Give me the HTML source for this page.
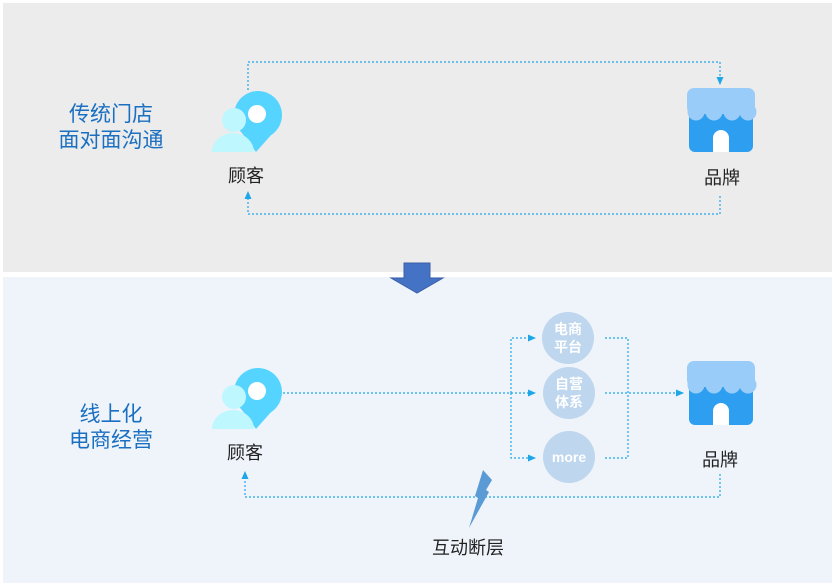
<!DOCTYPE html>
<html><head><meta charset="utf-8"><style>
body{margin:0;background:#fff;}
svg{display:block;font-family:"Liberation Sans","Noto Sans CJK SC",sans-serif;}
</style></head><body>
<svg width="835" height="587" viewBox="0 0 835 587">
<defs>
<marker id="a" markerWidth="8" markerHeight="8" refX="7" refY="4" orient="auto" markerUnits="userSpaceOnUse"><path d="M0,0.5 L8,4 L0,7.5z" fill="#1ea7e8"/></marker>
<g id="person">
<circle cx="32" cy="-5" r="24" fill="#55d4ff"/>
<path d="M10,5 L54,5 L30,32 Z" fill="#55d4ff"/>
<circle cx="31" cy="-6" r="9" fill="#fff"/>
<circle cx="8" cy="0" r="12" fill="#bff7ff"/>
<path d="M-14,32 a21,19 0 0 1 42,0 Z" fill="#bff7ff"/>
</g>
<g id="store">
<rect x="0" y="20" width="64" height="44" rx="6" fill="#2e9ff0"/>
<rect x="-2" y="0" width="68" height="26" rx="7" fill="#99ccf8"/>
<circle cx="7" cy="24" r="8.5" fill="#99ccf8"/><circle cx="25" cy="24" r="8.5" fill="#99ccf8"/><circle cx="43" cy="24" r="8.5" fill="#99ccf8"/><circle cx="59" cy="24" r="8.5" fill="#99ccf8"/>
<path d="M24,64 V50 a8,8 0 0 1 16,0 V64 Z" fill="#fff"/>
</g>
</defs>
<rect x="3" y="3" width="829" height="269" fill="#ececec"/>
<rect x="3" y="277" width="829" height="306" fill="#eff4fb"/>
<path d="M404,263 H430 V278 H443 L417,293 L391,278 H404 Z" fill="#4472c4" stroke="#3a60a8" stroke-width="1"/>
<g fill="none" stroke="#1ea7e8" stroke-width="1.2" stroke-dasharray="2,2">
<path d="M248,90 V62 H720 V84" marker-end="url(#a)"/>
<path d="M720,196 V214 H248 V192" marker-end="url(#a)"/>
<path d="M283,393 H535" marker-end="url(#a)"/>
<path d="M511,393 V338 H535" marker-end="url(#a)"/>
<path d="M511,393 V458 H535" marker-end="url(#a)"/>
<path d="M605,338 H628 V458 H605"/>
<path d="M605,393 H683" marker-end="url(#a)"/>
<path d="M720,474 V497 H245 V472" marker-end="url(#a)"/>
</g>
<use href="#person" x="226" y="120"/>
<use href="#person" x="226" y="397"/>
<use href="#store" x="689" y="88"/>
<use href="#store" x="689" y="361"/>
<circle cx="568" cy="338" r="26" fill="#bed6ee"/>
<circle cx="569" cy="393" r="26" fill="#bed6ee"/>
<circle cx="569" cy="457" r="26" fill="#bed6ee"/>
<g fill="#fff" font-size="14" font-weight="bold" text-anchor="middle">
<text x="568" y="334">电商</text><text x="568" y="352">平台</text>
<text x="569" y="389">自营</text><text x="569" y="407">体系</text>
<text x="569" y="462">more</text>
</g>
<path d="M483,470 L492,480 L486,490 L489,492 L469,528 L478,498 L475,496 Z" fill="#5b9bd5"/>
<g fill="#222" font-size="18" text-anchor="middle">
<text x="246" y="182">顾客</text>
<text x="722" y="184">品牌</text>
<text x="245" y="459">顾客</text>
<text x="720" y="466">品牌</text>
<text x="468" y="554">互动断层</text>
</g>
<g fill="#1a6fc0" font-size="21" text-anchor="middle">
<text x="111" y="121">传统门店</text>
<text x="111" y="147">面对面沟通</text>
<text x="111" y="421">线上化</text>
<text x="111" y="447">电商经营</text>
</g>
</svg>
</body></html>
